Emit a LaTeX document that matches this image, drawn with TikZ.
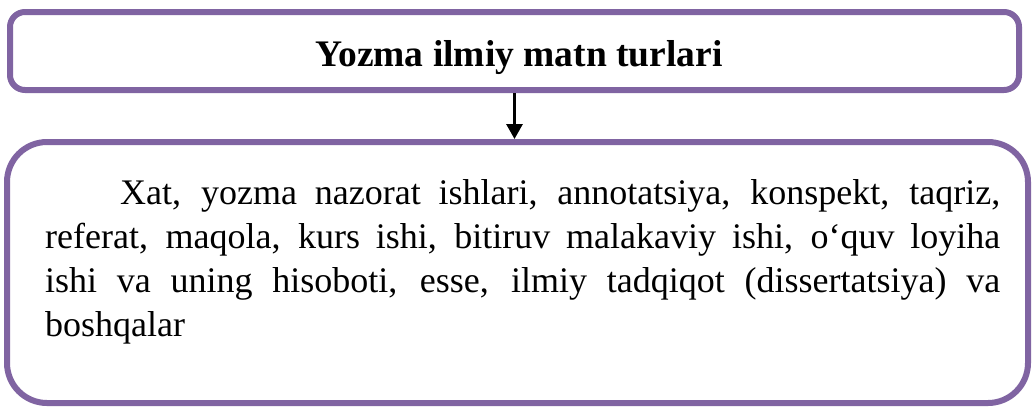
\documentclass[tikz,border=0pt]{standalone}
\usepackage{fontspec}
\setmainfont{Liberation Serif}
\usetikzlibrary{arrows.meta}

\definecolor{boxpurple}{RGB}{128,100,162}

\tikzset{
	titlebox/.style={draw=boxpurple, line width=6pt, fill=white, rounded corners=15pt,
		minimum width=1009pt, minimum height=78pt, inner sep=0pt,
		text height=30pt, text depth=0pt,
		font=\fontsize{37.5}{44}\selectfont\bfseries},
	bodybox/.style={draw=boxpurple, line width=6pt, fill=white, rounded corners=40pt,
		minimum width=1021pt, minimum height=261pt, inner sep=0pt},
	bodytext/.style={text width=955pt, align=justify, inner sep=0pt,
		font=\fontsize{36}{44}\selectfont},
	link/.style={line width=3pt, -{Triangle[length=15pt,width=16pt]}}
}

\begin{document}
\begin{tikzpicture}[x=1pt,y=1pt]

	\useasboundingbox (0,0) rectangle (1033,-408);

	% ---- boxes

	\node[titlebox] (title) at (514.5,-51) {\hspace*{9pt}Yozma ilmiy matn turlari};
	\node[bodybox] (body) at (517.5,-272.5) {};

	% ---- text of the lower box

	\node[bodytext, anchor=north west] (list) at (45,-179) {\hspace*{75pt}Xat, yozma nazorat ishlari, annotatsiya, konspekt, taqriz,\linebreak
		referat, maqola, kurs ishi, bitiruv malakaviy ishi, o‘quv loyiha\linebreak
		ishi va uning hisoboti, esse, ilmiy tadqiqot (dissertatsiya) va\linebreak
		boshqalar};

	% ---- arrow

	\draw[link] (title.south) -- (title.south |- body.north);

\end{tikzpicture}
\end{document}
